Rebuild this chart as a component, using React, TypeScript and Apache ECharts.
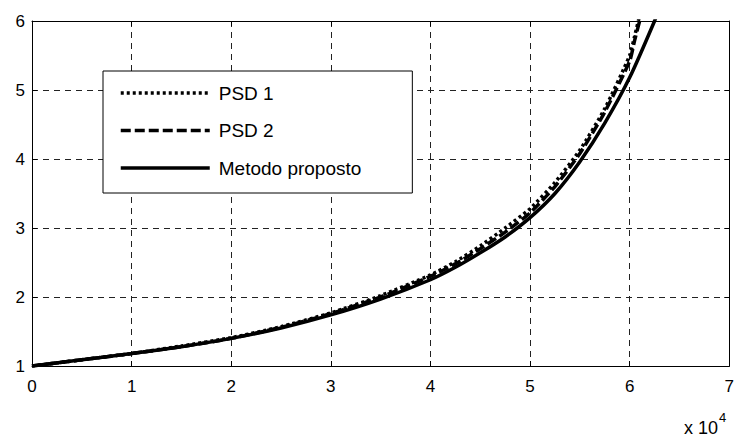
import React, { useEffect, useRef } from "react";
import * as echarts from "echarts";

const xTicks = [0, 1, 2, 3, 4, 5, 6, 7];
const yTicks = [1, 2, 3, 4, 5, 6];

const psd1X = [0, 0.5, 1, 1.5, 2, 2.5, 3, 3.5, 4, 4.25, 4.5, 4.75, 5, 5.25, 5.5, 5.75, 6.0, 6.05, 6.1];
const psd1Y = [1.0, 1.09, 1.18, 1.29, 1.41, 1.57, 1.77, 2.02, 2.32, 2.51, 2.74, 3.0, 3.28, 3.66, 4.13, 4.73, 5.5, 5.78, 6.08];

const psd2X = [0, 0.5, 1, 1.5, 2, 2.5, 3, 3.5, 4, 4.25, 4.5, 4.75, 5, 5.25, 5.5, 5.75, 6.0, 6.05, 6.1, 6.15];
const psd2Y = [1.0, 1.09, 1.18, 1.28, 1.40, 1.56, 1.76, 2.0, 2.3, 2.48, 2.7, 2.94, 3.22, 3.6, 4.08, 4.68, 5.42, 5.72, 6.0, 6.3];

const metX = [0, 0.5, 1, 1.5, 2, 2.5, 3, 3.5, 4, 4.25, 4.5, 4.75, 5, 5.25, 5.5, 5.75, 6.0, 6.25, 6.3];
const metY = [1.0, 1.09, 1.18, 1.28, 1.40, 1.55, 1.74, 1.97, 2.25, 2.43, 2.64, 2.87, 3.15, 3.5, 3.96, 4.52, 5.18, 6.0, 6.2];

const seriesNames = ["PSD 1", "PSD 2", "Metodo proposto"];

const FONT = "Liberation Sans, Arial, sans-serif";

export default function App() {
  const ref = useRef<HTMLDivElement>(null);
  useEffect(() => {
    if (!ref.current) return;
    const chart = echarts.init(ref.current, undefined, { renderer: "svg" });
    const zip = (xs: number[], ys: number[]) => xs.map((x, i) => [x, ys[i]]);
    const axisCommon = {
      type: "value" as const,
      axisLine: { show: true, onZero: false, lineStyle: { color: "#000", width: 1 } },
      axisTick: { show: true, inside: true, length: 5, lineStyle: { color: "#000" } },
    };
    chart.setOption({
      animation: false,
      backgroundColor: "#fff",
      grid: { left: 32, right: 4, top: 21, bottom: 74, containLabel: false },
      xAxis: [
        {
          ...axisCommon,
          min: xTicks[0],
          max: xTicks[xTicks.length - 1],
          interval: 1,
          position: "bottom",
          axisLabel: { color: "#000", fontSize: 17, fontFamily: FONT, margin: 12 },
          splitLine: { show: true, lineStyle: { color: "#222", width: 1, type: [6, 5] } },
        },
        {
          ...axisCommon,
          min: xTicks[0],
          max: xTicks[xTicks.length - 1],
          interval: 1,
          position: "top",
          axisLabel: { show: false },
          splitLine: { show: false },
        },
      ],
      yAxis: [
        {
          ...axisCommon,
          min: yTicks[0],
          max: yTicks[yTicks.length - 1],
          interval: 1,
          position: "left",
          axisLabel: { color: "#000", fontSize: 17, fontFamily: FONT, margin: 7 },
          splitLine: { show: true, lineStyle: { color: "#222", width: 1, type: [6, 5] } },
        },
        {
          ...axisCommon,
          min: yTicks[0],
          max: yTicks[yTicks.length - 1],
          interval: 1,
          position: "right",
          axisLabel: { show: false },
          splitLine: { show: false },
        },
      ],
      legend: {
        orient: "vertical",
        left: 103,
        top: 71,
        data: seriesNames,
        backgroundColor: "#fff",
        borderColor: "#000",
        borderWidth: 1,
        padding: [11, 51, 14, 16],
        itemWidth: 89,
        itemHeight: 14,
        itemGap: 15.5,
        itemStyle: { opacity: 0 },
        lineStyle: { width: 3.5, color: "#000" },
        textStyle: { color: "#000", fontSize: 19, fontFamily: FONT, lineHeight: 22, padding: [0, 0, 0, 4] },
        selectedMode: false,
      },
      series: [
        {
          name: seriesNames[0],
          type: "line",
          data: zip(psd1X, psd1Y),
          symbol: "none",
          smooth: 0.2,
          color: "#000",
          lineStyle: { color: "#000", width: 3.5, type: [3, 3] },
          z: 3,
        },
        {
          name: seriesNames[1],
          type: "line",
          data: zip(psd2X, psd2Y),
          symbol: "none",
          smooth: 0.2,
          color: "#000",
          lineStyle: { color: "#000", width: 3.5, type: [10, 4] },
          z: 3,
        },
        {
          name: seriesNames[2],
          type: "line",
          data: zip(metX, metY),
          symbol: "none",
          smooth: 0.2,
          color: "#000",
          lineStyle: { color: "#000", width: 3.5, type: "solid" },
          z: 2,
        },
      ],
      graphic: [
        {
          type: "text",
          left: 684,
          top: 411,
          style: {
            text: "{b|x 10}{s|4}",
            rich: {
              b: { fontSize: 18, fontFamily: FONT, fill: "#000", verticalAlign: "bottom", lineHeight: 26 },
              s: { fontSize: 13, fontFamily: FONT, fill: "#000", verticalAlign: "top", lineHeight: 26, padding: [0, 0, 10, 1] },
            },
          },
        },
      ],
    });
    return () => chart.dispose();
  }, []);
  return <div ref={ref} style={{ width: 737, height: 440, position: "absolute", left: 0, top: 0 }} />;
}
